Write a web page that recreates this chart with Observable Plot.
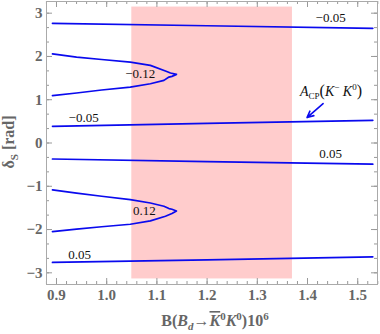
<!DOCTYPE html>
<html><head><meta charset="utf-8">
<script src="https://cdn.jsdelivr.net/npm/d3@7"></script>
<script src="https://cdn.jsdelivr.net/npm/@observablehq/plot@0.6"></script>
<style>body{margin:0;background:#fff}svg{display:block}svg text{font-family:"Liberation Serif","Times New Roman",serif !important}</style>
</head><body><div id="chart"></div>
<script>
// tick labels
const xTicks = [0.9, 1.0, 1.1, 1.2, 1.3, 1.4, 1.5];
const yTicks = [-3, -2, -1, 0, 1, 2, 3];

// contour lines (x = branching ratio ×10^6, y = δS in rad)
const topLineX = [0.892, 1.2, 1.53];
const topLineY = [2.765, 2.71, 2.65];
const acpLineX = [0.892, 1.2, 1.53];
const acpLineY = [0.385, 0.455, 0.525];
const midLineX = [0.892, 1.2, 1.53];
const midLineY = [-0.37, -0.43, -0.49];
const botLineX = [0.892, 1.2, 1.53];
const botLineY = [-2.76, -2.70, -2.63];
const contourAX = [0.892, 0.94, 0.99, 1.047, 1.087, 1.117, 1.127, 1.139, 1.130, 1.124, 1.114, 1.087, 1.047, 0.99, 0.94, 0.892];
const contourAY = [2.06, 1.985, 1.93, 1.87, 1.794, 1.663, 1.617, 1.586, 1.54, 1.524, 1.448, 1.37, 1.293, 1.225, 1.155, 1.095];
const contourBX = [0.892, 0.94, 0.99, 1.047, 1.087, 1.114, 1.124, 1.130, 1.139, 1.130, 1.117, 1.087, 1.047, 0.99, 0.94, 0.892];
const contourBY = [-1.085, -1.16, -1.23, -1.307, -1.386, -1.462, -1.515, -1.53, -1.57, -1.63, -1.693, -1.80, -1.878, -1.935, -1.99, -2.05];

// contour labels
const labelText = ["\u22120.05", "\u22120.12", "\u22120.05", "0.05", "0.12", "0.05"];
const labelX = [1.446, 1.067, 0.954, 1.446, 1.075, 0.946];
const labelY = [2.89, 1.598, 0.593, -0.249, -1.566, -2.582];

// experimental band
const bandX = [1.05, 1.37];
const bandY = [-Math.PI, Math.PI];

// annotation arrow
const arrowFrom = [1.431, 0.91];
const arrowTo = [1.399, 0.587];
const annotPos = [1.386, 1.078];

const series = [
  ["top", topLineX, topLineY], ["acp", acpLineX, acpLineY],
  ["mid", midLineX, midLineY], ["bot", botLineX, botLineY],
  ["A", contourAX, contourAY], ["B", contourBX, contourBY]
];
const lineData = series.flatMap(([s, xs, ys]) => xs.map((x, i) => ({s, x, y: ys[i]})));
const labels = labelText.map((t, i) => ({t, x: labelX[i], y: labelY[i]}));

const FONT = "Liberation Serif, Times New Roman, serif";
const W = 380, H = 334, mL = 46, mR = 3, mT = 1, mB = 50;
const fw = W - mL - mR, fh = H - mT - mB;
const xMinor = d3.range(0.88, 1.545, 0.02).map(d => +d.toFixed(2));
const yMinor = d3.range(-9, 10).map(d => d / 3);
const tickCol = "#999";
const blue = "#0a0aee";
const fmt = d => d < 0 ? "\u2212" + Math.abs(d) : String(d);

const plot = Plot.plot({
  width: W, height: H,
  marginLeft: mL, marginRight: mR, marginTop: mT, marginBottom: mB,
  style: {fontFamily: FONT, background: "#fff"},
  x: {domain: [0.8801, 1.5394]},
  y: {domain: [-3.27, 3.27]},
  marks: [
    Plot.rect([0], {x1: () => bandX[0], x2: () => bandX[1], y1: () => bandY[0], y2: () => bandY[1], fill: "#ffcccc"}),
    Plot.line(lineData, {x: "x", y: "y", z: "s", stroke: blue, strokeWidth: 1.7, curve: "linear"}),
    Plot.text(labels, {x: "x", y: "y", text: "t", fontSize: 13, fill: "#111", fontFamily: FONT}),
    Plot.arrow([0], {x1: () => arrowFrom[0], y1: () => arrowFrom[1], x2: () => arrowTo[0], y2: () => arrowTo[1], stroke: blue, strokeWidth: 1.6, headLength: 7, headAngle: 50}),
    // ticks (inward)
    Plot.tickX(xMinor, {x: d => d, stroke: tickCol, insetTop: fh - 3}),
    Plot.tickX(xMinor, {x: d => d, stroke: tickCol, insetBottom: fh - 3}),
    Plot.tickX(xTicks, {x: d => d, stroke: tickCol, insetTop: fh - 6}),
    Plot.tickX(xTicks, {x: d => d, stroke: tickCol, insetBottom: fh - 6}),
    Plot.tickY(yMinor, {y: d => d, stroke: tickCol, insetRight: fw - 3}),
    Plot.tickY(yMinor, {y: d => d, stroke: tickCol, insetLeft: fw - 3}),
    Plot.tickY(yTicks, {y: d => d, stroke: tickCol, insetRight: fw - 6}),
    Plot.tickY(yTicks, {y: d => d, stroke: tickCol, insetLeft: fw - 6}),
    Plot.frame({stroke: "#aaa"}),
    Plot.axisX({ticks: xTicks, tickSize: 0, tickPadding: 5, tickFormat: d => d.toFixed(1), fontSize: 15, fontWeight: "bold", fill: "#666", fontFamily: FONT, label: null}),
    Plot.axisY({ticks: yTicks, tickSize: 0, tickPadding: 4, tickFormat: fmt, fontSize: 15, fontWeight: "bold", fill: "#666", fontFamily: FONT, label: null})
  ]
});
document.getElementById("chart").appendChild(plot);

const svg = d3.select(plot);
svg.selectAll("text").style("font-family", FONT);
const xs = plot.scale("x"), ys = plot.scale("y");

// y title
const yt = svg.append("text")
  .attr("transform", "translate(14,142) rotate(-90)")
  .attr("text-anchor", "middle")
  .attr("font-family", FONT).attr("font-size", 16).attr("font-weight", "bold").attr("fill", "#666");
yt.append("tspan").text("\u03b4");
yt.append("tspan").attr("font-size", 11).attr("dy", 4).text("S");
yt.append("tspan").attr("dy", -4).text(" [rad]");

// x title
const xt = svg.append("text")
  .attr("x", 215).attr("y", 326)
  .attr("text-anchor", "middle")
  .attr("font-family", FONT).attr("font-size", 16).attr("font-weight", "bold").attr("fill", "#666");
xt.append("tspan").text("B(");
xt.append("tspan").attr("font-style", "italic").text("B");
xt.append("tspan").attr("font-style", "italic").attr("font-size", 11).attr("dy", 4).text("d");
xt.append("tspan").attr("dy", -4).text("\u2192");
xt.append("tspan").attr("font-style", "italic").attr("text-decoration", "overline").text("K");
xt.append("tspan").attr("font-size", 11).attr("dy", -6).text("0");
xt.append("tspan").attr("font-style", "italic").attr("dy", 6).text("K");
xt.append("tspan").attr("font-size", 11).attr("dy", -6).text("0");
xt.append("tspan").attr("dy", 6).text(")10");
xt.append("tspan").attr("font-size", 11).attr("dy", -6).text("6");

// A_CP annotation
const at = svg.append("text")
  .attr("x", xs.apply(annotPos[0])).attr("y", ys.apply(annotPos[1]))
  .attr("text-anchor", "start")
  .attr("font-family", FONT).attr("font-size", 14).attr("fill", "#111");
at.append("tspan").attr("font-style", "italic").text("A");
at.append("tspan").attr("font-size", 9).attr("dy", 3).text("CP");
at.append("tspan").attr("dy", -3).attr("font-size", 16).text("(");
at.append("tspan").attr("font-size", 14).attr("font-style", "italic").text("K");
at.append("tspan").attr("font-size", 9).attr("dy", -6).text("\u2212");
at.append("tspan").attr("font-size", 14).attr("font-style", "italic").attr("dy", 6).text(" K");
at.append("tspan").attr("font-size", 9).attr("dy", -6).text("0");
at.append("tspan").attr("font-size", 16).attr("dy", 6).text(")");
</script></body></html>
